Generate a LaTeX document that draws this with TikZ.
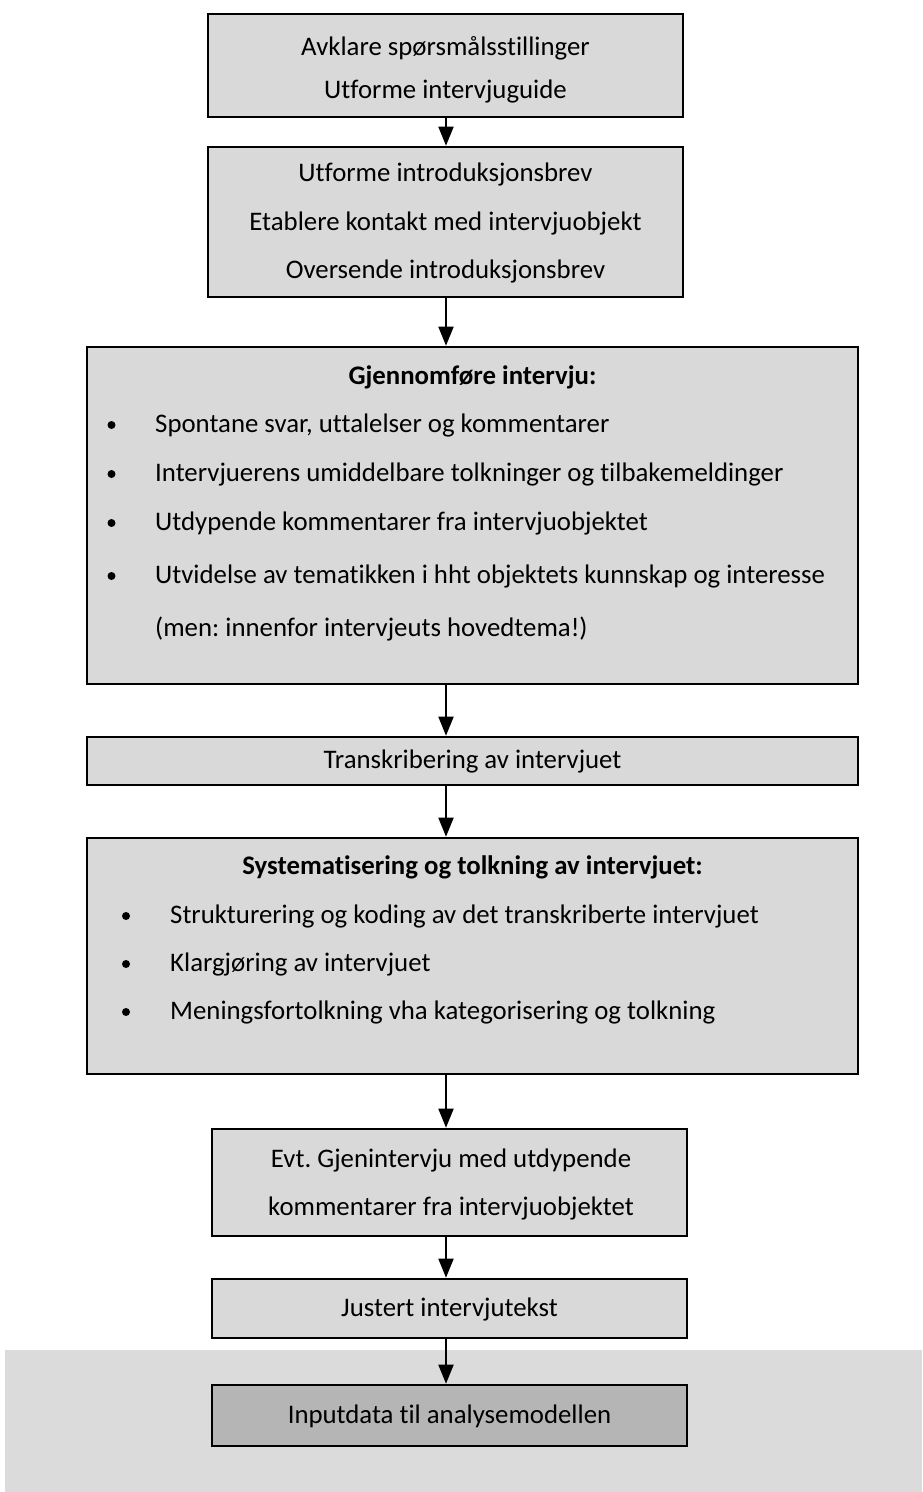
\documentclass[tikz,border=0pt]{standalone}
\usepackage{fontspec}
\setmainfont{Carlito}[Ligatures={NoCommon}]
\usetikzlibrary{arrows.meta,calc}
\tikzset{
  flowbox/.style={draw=black, line width=2.6pt, fill=gray!30, rectangle, inner sep=0pt},
  finalbox/.style={flowbox, fill=gray!58},
  txt/.style={font=\fontsize{26.8}{32}\selectfont, inner sep=0pt, anchor=mid},
  txtl/.style={txt, anchor=mid west},
  ttl/.style={txt, font=\fontsize{26.8}{32}\selectfont\bfseries},
  conn/.style={line width=1.8pt, -{Triangle[width=15pt,length=19pt]}},
  dot/.style={circle, fill=black, inner sep=0pt, minimum size=8pt}
}
\begin{document}
\frenchspacing
\begin{tikzpicture}[x=1pt,y=-1pt]
\useasboundingbox (0,0) rectangle (922,1492);
% background band
\fill[gray!28] (5,1350) rectangle (922,1492);
% boxes
\node[flowbox, minimum width=475pt, minimum height=103pt] (b1) at (445.5,65.5) {};
\node[flowbox, minimum width=475pt, minimum height=150pt] (b2) at (445.5,222) {};
\node[flowbox, minimum width=771pt, minimum height=337pt] (b3) at (472.5,515.5) {};
\node[flowbox, minimum width=771pt, minimum height=48pt] (b4) at (472.5,761) {};
\node[flowbox, minimum width=771pt, minimum height=236pt] (b5) at (472.5,956) {};
\node[flowbox, minimum width=475pt, minimum height=107pt] (b6) at (449.5,1182.5) {};
\node[flowbox, minimum width=475pt, minimum height=59pt] (b7) at (449.5,1308.5) {};
\node[finalbox, minimum width=475pt, minimum height=61pt] (b8) at (449.5,1415.5) {};
% arrow column
\coordinate (ax) at (446,0);
\draw[conn] (b1.south -| ax) -- (b2.north -| ax);
\draw[conn] (b2.south -| ax) -- (b3.north -| ax);
\draw[conn] (b3.south -| ax) -- (b4.north -| ax);
\draw[conn] (b4.south -| ax) -- (b5.north -| ax);
\draw[conn] (b5.south -| ax) -- (b6.north -| ax);
\draw[conn] (b6.south -| ax) -- (b7.north -| ax);
\draw[conn] (b7.south -| ax) -- (b8.north -| ax);
% texts box 1
\node[txt] (t11) at (445.5,53) {Avklare spørsmålsstillinger};
\node[txt] (t12) at (445.5,96) {Utforme intervjuguide};
% box 2
\node[txt] (t21) at (445.5,179) {Utforme introduksjonsbrev};
\node[txt] (t22) at (445.5,228) {Etablere kontakt med intervjuobjekt};
\node[txt] (t23) at (445.5,276) {Oversende introduksjonsbrev};
% box 3
\node[ttl] (t30) at (472.5,382) {Gjennomføre intervju:};
\node[dot] (d31) at (111.5,425) {};
\node[txtl] (t31) at (155,430) {Spontane svar, uttalelser og kommentarer};
\node[dot] (d32) at (111.5,474) {};
\node[txtl] (t32) at (155,479) {Intervjuerens umiddelbare tolkninger og tilbakemeldinger};
\node[dot] (d33) at (111.5,523) {};
\node[txtl] (t33) at (155,528) {Utdypende kommentarer fra intervjuobjektet};
\node[dot] (d34) at (111.5,576) {};
\node[txtl] (t34) at (155,581) {Utvidelse av tematikken i hht objektets kunnskap og interesse};
\node[txtl] (t35) at (155,634) {(men: innenfor intervjeuts hovedtema!)};
% box 4
\node[txt] (t41) at (472.5,766) {Transkribering av intervjuet};
% box 5
\node[ttl] (t50) at (472.5,872) {Systematisering og tolkning av intervjuet:};
\node[dot] (d51) at (126,916) {};
\node[txtl] (t51) at (170,921) {Strukturering og koding av det transkriberte intervjuet};
\node[dot] (d52) at (126,964) {};
\node[txtl] (t52) at (170,969) {Klargjøring av intervjuet};
\node[dot] (d53) at (126,1012) {};
\node[txtl] (t53) at (170,1017) {Meningsfortolkning vha kategorisering og tolkning};
% box 6
\node[txt] (t61) at (451,1165) {Evt. Gjenintervju med utdypende};
\node[txt] (t62) at (451,1213) {kommentarer fra intervjuobjektet};
% box 7
\node[txt] (t71) at (449.5,1314) {Justert intervjutekst};
% box 8
\node[txt] (t81) at (449.5,1421) {Inputdata til analysemodellen};
\end{tikzpicture}
\end{document}
